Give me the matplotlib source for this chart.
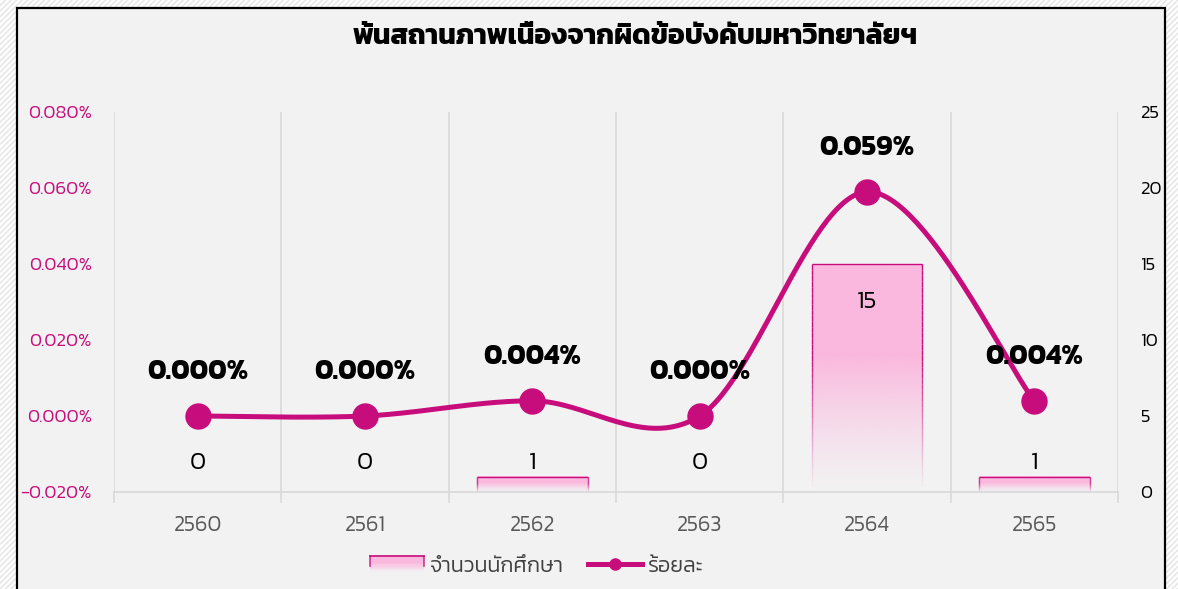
import numpy as np
import matplotlib
matplotlib.use("Agg")
import matplotlib.pyplot as plt
from matplotlib.patches import Rectangle
from matplotlib.lines import Line2D
from matplotlib.legend_handler import HandlerBase

# ---------------- data ----------------
years = ['2560', '2561', '2562', '2563', '2564', '2565']
students = [0, 0, 1, 0, 15, 1]
percent = [0.000, 0.000, 0.004, 0.000, 0.059, 0.004]
title = 'พ้นสถานภาพเนื่องจากผิดข้อบังคับมหาวิทยาลัยฯ'
legend_bar = 'จำนวนนักศึกษา'
legend_line = 'ร้อยละ'

plt.rcParams['font.family'] = ['Kanit', 'DejaVu Sans']

MAG = '#C70C7C'
BG = '#F2F2F2'
PINK = '#FBB8DE'
W, H = 1178, 589
fig = plt.figure(figsize=(W / 100, H / 100), dpi=100)
fig.patch.set_facecolor('white')
fig.add_artist(Rectangle((0, 0), 1, 1, transform=fig.transFigure, facecolor='white',
                         edgecolor='#E4E4E4', hatch='//////', lw=0, zorder=-10))
fig.add_artist(Rectangle((17 / W, -0.05), (1165 - 17) / W, (H - 8) / H + 0.05,
                         transform=fig.transFigure, facecolor=BG, edgecolor='black',
                         lw=1.6, zorder=-5))

ax = fig.add_axes([114 / W, (H - 492) / H, 1004 / W, 380 / H])
ax.set_facecolor('none')
axl = ax.twinx()

x = np.arange(len(years))

bw = 0.66
top_col = np.array(matplotlib.colors.to_rgb(PINK))
n = 200
t = np.linspace(0, 1, n)
alpha = np.clip(t / 0.6, 0, 1) ** 1.3
grad = np.zeros((n, 1, 4))
grad[:, 0, :3] = top_col
grad[:, 0, 3] = alpha
for xi, v in zip(x, students):
    if v <= 0:
        continue
    ax.imshow(grad, extent=[xi - bw / 2, xi + bw / 2, 0, v], origin='lower',
              aspect='auto', zorder=2, interpolation='bilinear')
    ax.plot([xi - bw / 2, xi + bw / 2], [v, v], color=MAG, lw=1.0, zorder=3,
            solid_capstyle='butt')
    m = 40
    ys = np.linspace(0, v, m + 1)
    for k in range(m):
        a = float(np.clip(((ys[k] + ys[k + 1]) / 2 / v) / 0.6, 0, 1) ** 1.3)
        for xe in (xi - bw / 2, xi + bw / 2):
            ax.plot([xe, xe], [ys[k], ys[k + 1]], color=MAG, lw=1.0, alpha=a,
                    zorder=3, solid_capstyle='butt')
ax.set_xlim(-0.5, len(years) - 0.5)
ax.set_ylim(0, 25)
axl.set_ylim(-0.02, 0.08)

for xi, v in zip(x, students):
    yl = v - 2.5 if v >= 5 else 1.9
    ax.text(xi, yl, str(v), ha='center', va='center', fontsize=18, color='black',
            fontweight=300, zorder=6)

# smooth line (Excel-like bezier smoothing)
pts = np.column_stack([x, percent]).astype(float)
cx, cy = [], []
tt = np.linspace(0, 1, 60)
for i in range(len(pts) - 1):
    p0 = pts[i - 1] if i > 0 else pts[i]
    p1 = pts[i]
    p2 = pts[i + 1]
    p3 = pts[i + 2] if i + 2 < len(pts) else pts[i + 1]
    c1 = p1 + (p2 - p0) / 6
    c2 = p2 - (p3 - p1) / 6
    b = ((1 - tt) ** 3)[:, None] * p1 + (3 * (1 - tt) ** 2 * tt)[:, None] * c1 + \
        (3 * (1 - tt) * tt ** 2)[:, None] * c2 + (tt ** 3)[:, None] * p2
    cx.extend(b[:, 0]); cy.extend(b[:, 1])
axl.plot(cx, cy, color=MAG, lw=3.6, zorder=4, solid_capstyle='round')
axl.plot(x, percent, 'o', color=MAG, ms=18, zorder=5)
for xi, p in zip(x, percent):
    axl.text(xi, p + 0.0115, f'{p:.3f}%', ha='center', va='center', fontsize=20,
             fontweight=700, color='black', zorder=6)

for a in (ax, axl):
    for s in a.spines.values():
        s.set_visible(False)
ax.spines['bottom'].set_visible(True)
ax.spines['bottom'].set_color('#D9D9D9')
ax.spines['bottom'].set_linewidth(1.2)

ax.set_xticks(np.arange(-0.5, len(years)), minor=False)
ax.set_xticklabels([])
ax.tick_params(axis='x', which='major', length=8, color='#D9D9D9', width=1.2)
ax.set_xticks(x, minor=True)
ax.set_xticklabels(years, minor=True)
ax.tick_params(axis='x', which='minor', length=0, pad=17, labelsize=15.5, labelcolor='#595959')
for lab in ax.get_xticklabels(minor=True):
    lab.set_fontweight(300)
for xb in np.arange(-0.5, len(years)):
    ax.axvline(xb, color='#D9D9D9', lw=1.2, zorder=0)

ax.yaxis.tick_right()
ax.set_yticks(np.arange(0, 26, 5))
ax.tick_params(axis='y', length=0, pad=16, labelsize=13.5, labelcolor='black')
for lab in ax.get_yticklabels():
    lab.set_horizontalalignment('left')
    lab.set_fontweight(300)

axl.yaxis.tick_left()
lt = np.arange(-0.02, 0.081, 0.02)
axl.set_yticks(lt)
axl.set_yticklabels([f'{v:.3f}%'.replace('-0.000', '0.000') for v in lt])
axl.tick_params(axis='y', length=0, pad=16, labelsize=13.5, labelcolor=MAG)
for lab in axl.get_yticklabels():
    lab.set_fontweight(300)

fig.text(635 / W, 1 - 37 / H, title, ha='center', va='center', fontsize=20.2,
         fontweight=700, color='black')


class GradHandler(HandlerBase):
    def create_artists(self, legend, orig, xd, yd, w, h, fs, trans):
        arts = []
        m = 12
        for k in range(m):
            a = float(np.clip((1 - (k + 0.5) / m) / 0.6, 0, 1) ** 1.0)
            r = Rectangle((xd, yd + h * (1 - (k + 1) / m)), w, h / m, facecolor=PINK,
                          alpha=a, lw=0, transform=trans)
            arts.append(r)
        arts.append(Line2D([xd, xd + w], [yd + h, yd + h], color=MAG, lw=1.2, transform=trans))
        for xe in (xd, xd + w):
            arts.append(Line2D([xe, xe], [yd + h * 0.4, yd + h], color=MAG, lw=1.2,
                               alpha=0.8, transform=trans))
        return arts


bar_handle = Rectangle((0, 0), 1, 1, facecolor=PINK, edgecolor=MAG, lw=1)
line_handle = Line2D([], [], color=MAG, lw=3.6, marker='o', ms=8)
leg = fig.legend([bar_handle, line_handle], [legend_bar, legend_line], loc='center',
                 bbox_to_anchor=(537 / W, 1 - 566 / H), ncol=2, frameon=False, fontsize=15.5,
                 handlelength=2.5, handleheight=0.7, columnspacing=1.1, handletextpad=0.3,
                 labelcolor='#404040', handler_map={Rectangle: GradHandler()})
for txt in leg.get_texts():
    txt.set_fontweight(300)

fig.savefig('out.png', dpi=100, facecolor=fig.get_facecolor())
